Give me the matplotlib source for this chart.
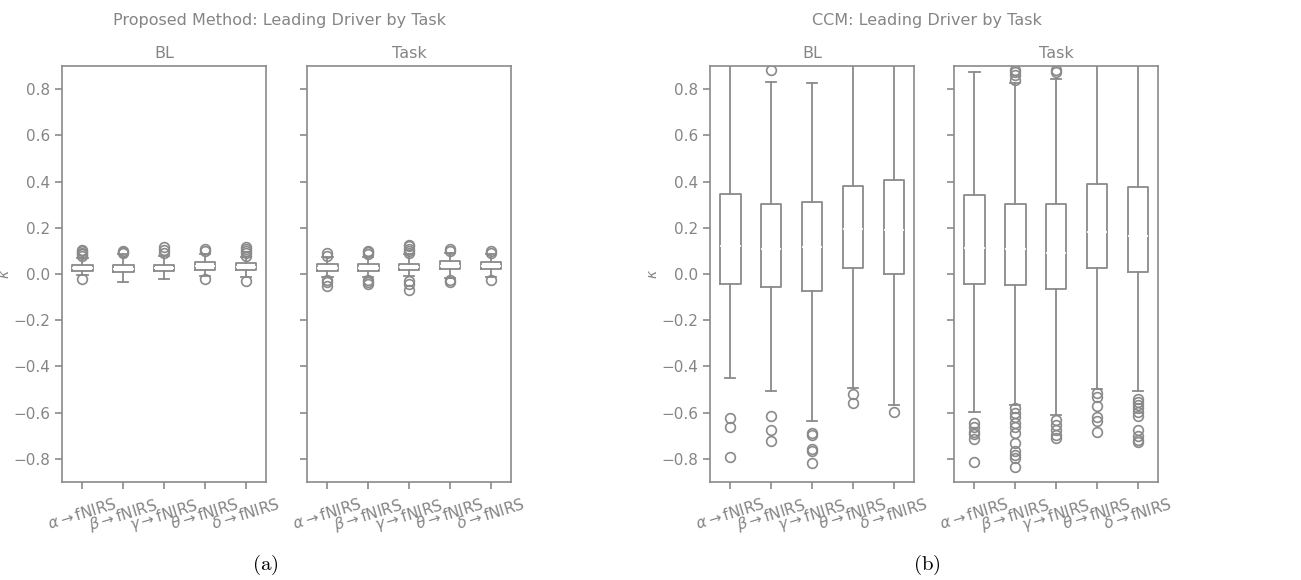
import matplotlib
matplotlib.use("Agg")
import matplotlib.pyplot as plt

labels = [r"$\alpha\rightarrow$fNIRS", r"$\beta\rightarrow$fNIRS", r"$\gamma\rightarrow$fNIRS",
          r"$\theta\rightarrow$fNIRS", r"$\delta\rightarrow$fNIRS"]

# Proposed method, baseline
prop_bl_q1 = [0.014, 0.007, 0.012, 0.017, 0.017]
prop_bl_med = [0.026, 0.024, 0.026, 0.035, 0.032]
prop_bl_q3 = [0.039, 0.039, 0.039, 0.054, 0.046]
prop_bl_lo = [-0.005, -0.033, -0.023, -0.008, -0.012]
prop_bl_hi = [0.07, 0.087, 0.08, 0.087, 0.075]
prop_bl_fliers = [[-0.02, 0.08, 0.085, 0.09, 0.1, 0.105],
                  [0.09, 0.095, 0.1],
                  [0.09, 0.105, 0.115],
                  [-0.022, 0.1, 0.11],
                  [-0.03, 0.08, 0.09, 0.1, 0.11, 0.115]]

# Proposed method, task
prop_task_q1 = [0.013, 0.013, 0.016, 0.02, 0.02]
prop_task_med = [0.027, 0.027, 0.03, 0.037, 0.035]
prop_task_q3 = [0.042, 0.042, 0.045, 0.055, 0.05]
prop_task_lo = [-0.013, -0.012, -0.01, -0.015, -0.012]
prop_task_hi = [0.073, 0.073, 0.085, 0.09, 0.085]
prop_task_fliers = [[-0.05, -0.035, -0.025, 0.08, 0.09],
                    [-0.045, -0.035, -0.025, 0.085, 0.095, 0.1],
                    [-0.07, -0.045, -0.03, 0.09, 0.1, 0.11, 0.12, 0.125],
                    [-0.035, -0.025, 0.1, 0.11],
                    [-0.025, 0.09, 0.1]]

# CCM, baseline
ccm_bl_q1 = [-0.045, -0.054, -0.074, 0.026, 0.0]
ccm_bl_med = [0.123, 0.109, 0.116, 0.194, 0.191]
ccm_bl_q3 = [0.347, 0.304, 0.313, 0.382, 0.405]
ccm_bl_lo = [-0.449, -0.505, -0.634, -0.494, -0.566]
ccm_bl_hi = [0.98, 0.831, 0.825, 0.98, 0.98]
ccm_bl_fliers = [[-0.794, -0.664, -0.624],
                 [-0.722, -0.674, -0.615, 0.883],
                 [-0.819, -0.764, -0.758, -0.696, -0.686],
                 [-0.556, -0.518],
                 [-0.599]]

# CCM, task
ccm_task_q1 = [-0.041, -0.049, -0.064, 0.026, 0.009]
ccm_task_med = [0.111, 0.109, 0.091, 0.181, 0.166]
ccm_task_q3 = [0.342, 0.304, 0.304, 0.388, 0.376]
ccm_task_lo = [-0.599, -0.566, -0.611, -0.497, -0.505]
ccm_task_hi = [0.874, 0.828, 0.844, 0.98, 0.98]
ccm_task_fliers = [[-0.814, -0.715, -0.693, -0.682, -0.66, -0.645],
                   [-0.833, -0.797, -0.783, -0.768, -0.732, -0.689, -0.66, -0.645,
                    -0.617, -0.602, -0.58, 0.84, 0.86, 0.875, 0.885],
                   [-0.71, -0.696, -0.674, -0.653, -0.631, 0.875, 0.885],
                   [-0.682, -0.638, -0.619, -0.57, -0.534, -0.516],
                   [-0.729, -0.718, -0.703, -0.677, -0.614, -0.595, -0.58, -0.566,
                    -0.552, -0.542]]

GRAY = "#8a8a8a"
TEXT = "#858585"

plt.rcParams["mathtext.fontset"] = "dejavusans"


def make_stats(q1, med, q3, lo, hi, fliers):
    return [dict(q1=a, med=b, q3=c, whislo=d, whishi=e, fliers=f)
            for a, b, c, d, e, f in zip(q1, med, q3, lo, hi, fliers)]


def draw_panel(ax, stats, title, ylabel):
    line = dict(color=GRAY, linewidth=1.3)
    ax.bxp(stats, widths=0.5, boxprops=line, whiskerprops=line, capprops=line,
           medianprops=dict(color="white", linewidth=1.3),
           flierprops=dict(marker="o", markerfacecolor="none", markeredgecolor=GRAY,
                           markersize=7, markeredgewidth=1.2))
    ax.set_ylim(-0.9, 0.9)
    ax.set_yticks([-0.8, -0.6, -0.4, -0.2, 0.0, 0.2, 0.4, 0.6, 0.8])
    ax.set_xticks(range(1, 6))
    ax.set_xticklabels(labels, rotation=17, ha="center", fontsize=10.5, color=TEXT)
    ax.tick_params(colors=GRAY, labelcolor=TEXT, labelsize=11, length=5, width=1.2)
    ax.tick_params(axis="x", pad=5)
    for s in ax.spines.values():
        s.set_color(GRAY)
        s.set_linewidth(1.2)
    ax.set_title(title, color=TEXT, fontsize=11.5, pad=6)
    if ylabel:
        ax.set_ylabel(r"$\kappa$", color=TEXT, fontsize=10)
        ax.yaxis.set_label_coords(-0.245, 0.5)
    else:
        ax.set_yticklabels([])


fig = plt.figure(figsize=(13.01, 5.8), dpi=100)
bottom, height, width = 0.169, 0.717, 0.157
ax1 = fig.add_axes([0.0477, bottom, width, height])
ax2 = fig.add_axes([0.236, bottom, width, height])
ax3 = fig.add_axes([0.5457, bottom, width, height])
ax4 = fig.add_axes([0.7333, bottom, width, height])

draw_panel(ax1, make_stats(prop_bl_q1, prop_bl_med, prop_bl_q3, prop_bl_lo, prop_bl_hi,
                           prop_bl_fliers), "BL", True)
draw_panel(ax2, make_stats(prop_task_q1, prop_task_med, prop_task_q3, prop_task_lo,
                           prop_task_hi, prop_task_fliers), "Task", False)
draw_panel(ax3, make_stats(ccm_bl_q1, ccm_bl_med, ccm_bl_q3, ccm_bl_lo, ccm_bl_hi,
                           ccm_bl_fliers), "BL", True)
draw_panel(ax4, make_stats(ccm_task_q1, ccm_task_med, ccm_task_q3, ccm_task_lo,
                           ccm_task_hi, ccm_task_fliers), "Task", False)

fig.text(0.215, 0.965, "Proposed Method: Leading Driver by Task", ha="center", va="center",
         color=TEXT, fontsize=11.5)
fig.text(0.7125, 0.965, "CCM: Leading Driver by Task", ha="center", va="center",
         color=TEXT, fontsize=11.5)

# sub-figure captions
fig.text(265 / 1301, 1 - 565 / 580, r"$\mathrm{(a)}$", ha="center", va="center",
         fontsize=15, math_fontfamily="cm", color="black")
fig.text(927 / 1301, 1 - 565 / 580, r"$\mathrm{(b)}$", ha="center", va="center",
         fontsize=15, math_fontfamily="cm", color="black")

fig.savefig("out.png", dpi=100)
